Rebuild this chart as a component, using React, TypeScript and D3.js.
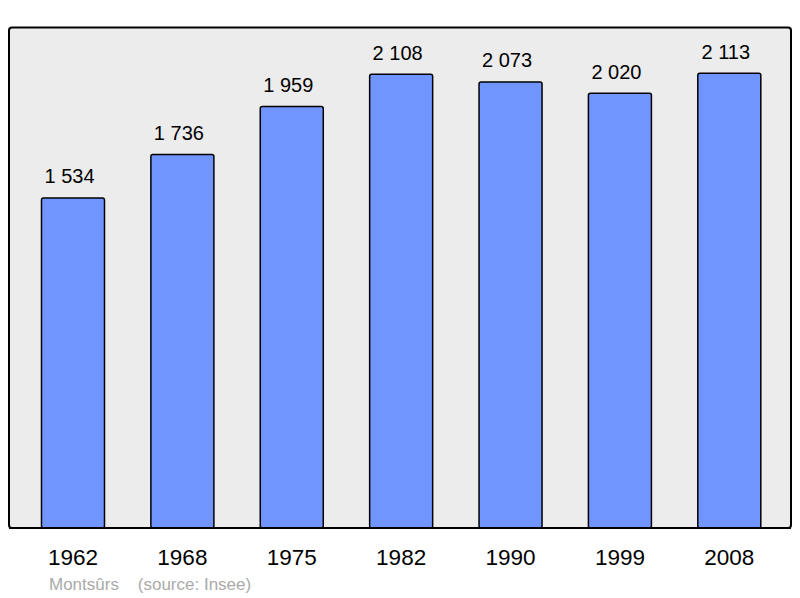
import React from "react";
import * as d3 from "d3";

const years = ["1962", "1968", "1975", "1982", "1990", "1999", "2008"];
const population = [1534, 1736, 1959, 2108, 2073, 2020, 2113];
const valueLabels = ["1 534", "1 736", "1 959", "2 108", "2 073", "2 020", "2 113"];
const footnote = "Montsûrs    (source: Insee)";

export default function App() {
  const W = 800, H = 598;
  const x = d3.scaleBand<string>().domain(years).range([18.3, 784]).paddingInner(0.424).paddingOuter(0.212);
  const y = d3.scaleLinear().domain([0, 2323.5]).range([528, 28]);
  const font = "'Liberation Sans', Arial, sans-serif";
  return (
    <svg width={W} height={H} style={{ position: "absolute", left: 0, top: 0 }}>
      <rect x={9} y={27.5} width={782} height={500.5} rx={3} fill="#ececec" stroke="#000" strokeWidth={2} />
      {years.map((yr, i) => {
        const bx = x(yr) as number;
        const top = y(population[i]);
        return (
          <g key={yr}>
            <rect x={bx} y={top} width={x.bandwidth()} height={y(0) - top} rx={2} fill="#7095ff" stroke="#000" strokeWidth={1.5} />
            <text x={bx + x.bandwidth() / 2 - 3.5} y={top - 14.5} textAnchor="middle" fontFamily={font} fontSize={20} fill="#000">{valueLabels[i]}</text>
            <text x={bx + x.bandwidth() / 2} y={564.5} textAnchor="middle" fontFamily={font} fontSize={22.5} fill="#000">{yr}</text>
          </g>
        );
      })}
      <line x1={9} x2={791} y1={528} y2={528} stroke="#000" strokeWidth={2} />
      <text x={49} y={590} fontFamily={font} fontSize={17} fill="#aaaaaa" style={{ whiteSpace: "pre" }}>{footnote}</text>
    </svg>
  );
}
